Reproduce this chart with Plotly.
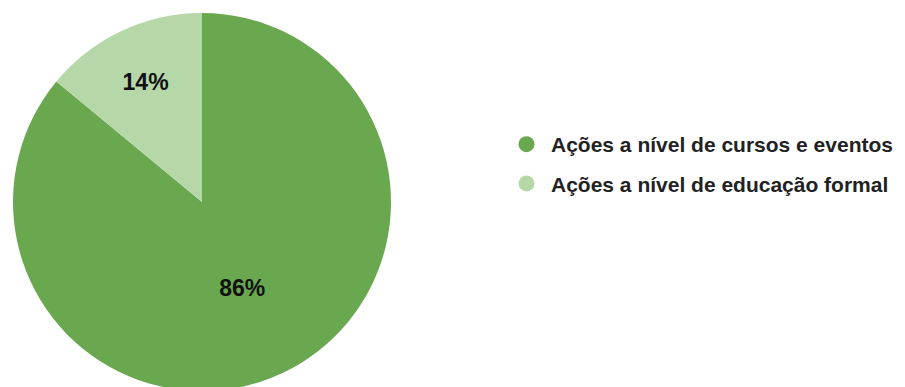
import plotly.graph_objects as go

labels = ["Ações a nível de cursos e eventos", "Ações a nível de educação formal"]
values = [86, 14]
colors = ["#6aa84f", "#b6d7a8"]

W, H = 905, 387

fig = go.Figure()
fig.add_trace(go.Pie(
    labels=labels, values=values, sort=False, direction="clockwise", rotation=0,
    marker=dict(colors=colors, line=dict(width=0)),
    textinfo="percent", texttemplate="%{percent:.0%}", textposition="inside",
    insidetextorientation="horizontal",
    textfont=dict(family="Liberation Sans, Arial", size=23, color="#111111", weight="bold"),
    showlegend=False,
    domain=dict(x=[5 / W, 383 / W], y=[4 / H, 382 / H]),
    hoverinfo="label+percent",
))
for i, (lab, col) in enumerate(zip(labels, colors)):
    fig.add_trace(go.Scatter(
        x=[None], y=[None], mode="markers", name=lab, legendgroup=f"g{i}",
        marker=dict(symbol="circle", size=16, color=col),
        showlegend=True,
    ))

fig.update_layout(
    width=W, height=H,
    margin=dict(l=0, r=0, t=0, b=0),
    paper_bgcolor="white", plot_bgcolor="white",
    xaxis=dict(visible=False), yaxis=dict(visible=False),
    legend=dict(
        x=(518 - 24) / W, y=(387 - 156) / H, xanchor="left", yanchor="middle",
        font=dict(family="Liberation Sans, Arial", size=21, color="#222222", weight="bold"),
        tracegroupgap=9, traceorder="grouped", itemsizing="trace", itemwidth=39,
        bgcolor="rgba(0,0,0,0)",
    ),
)

fig.write_html("out.html")
